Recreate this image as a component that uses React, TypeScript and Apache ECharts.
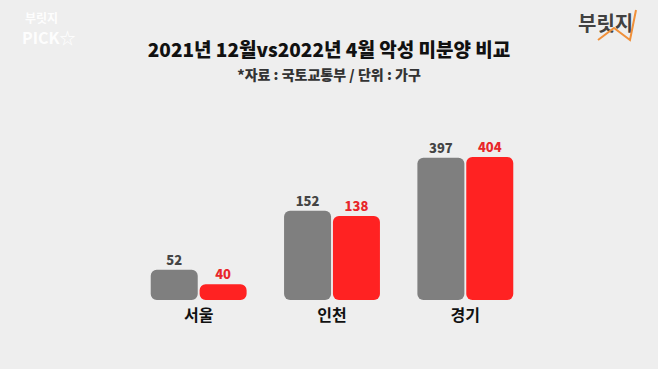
import React, { useEffect, useRef } from "react";
import * as echarts from "echarts";

const categories = ["서울", "인천", "경기"];
const dec2021 = [52, 152, 397];
const apr2022 = [40, 138, 404];
const seriesNames = ["2021년 12월", "2022년 4월"];
const titleText = "2021년 12월vs2022년 4월 악성 미분양 비교";
const subText = "*자료 : 국토교통부 / 단위 : 가구";

const FONT = "'Noto Sans CJK KR', 'Noto Sans', sans-serif";

export default function App() {
  const ref = useRef<HTMLDivElement>(null);
  useEffect(() => {
    document.body.style.margin = "0";
    const chart = echarts.init(ref.current!, null, { renderer: "svg" });
    chart.setOption({
      animation: false,
      backgroundColor: "#eeeeee",
      title: [
        {
          text: titleText,
          left: "center",
          top: 34,
          textStyle: { fontFamily: FONT, fontSize: 19, fontWeight: 900, color: "#111" },
        },
        {
          text: subText,
          left: "center",
          top: 62,
          textStyle: { fontFamily: FONT, fontSize: 14, fontWeight: 900, color: "#333" },
        },
      ],
      graphic: [
        {
          type: "text",
          left: 25,
          top: 11,
          style: { text: "부릿지", fontFamily: FONT, fontSize: 12, fontWeight: 700, fill: "#ffffff", opacity: 0.95 },
        },
        {
          type: "text",
          left: 22,
          top: 29,
          style: { text: "PICK☆", fontFamily: FONT, fontSize: 16, fontWeight: 700, fill: "#ffffff", opacity: 0.95 },
        },
        {
          type: "text",
          left: 578,
          top: 12,
          style: { text: "부릿지", fontFamily: FONT, fontSize: 20, fontWeight: 700, fill: "#222", opacity: 0.85 },
        },
        {
          type: "polyline",
          shape: { points: [[598, 40], [614, 28], [630, 40], [636, 10]] },
          style: { stroke: "#f0903a", lineWidth: 2, fill: "none" },
        },
      ],
      legend: { show: false },
      grid: { left: 132, right: 126, top: 107, bottom: 69 },
      xAxis: {
        type: "category",
        data: categories,
        axisLine: { show: false },
        axisTick: { show: false },
        axisLabel: { fontFamily: FONT, fontSize: 16, fontWeight: 700, color: "#111", margin: 6 },
      },
      yAxis: {
        type: "log",
        logBase: 10,
        min: 30,
        max: 1000,
        show: false,
        splitLine: { show: false },
      },
      series: [
        {
          name: seriesNames[0],
          type: "bar",
          data: dec2021,
          barWidth: 47,
          barGap: "4%",
          itemStyle: { color: "#7f7f7f", borderRadius: 6 },
          label: {
            show: true,
            position: "top",
            distance: 4,
            fontFamily: FONT,
            fontSize: 13,
            fontWeight: 900,
            color: "#444",
          },
        },
        {
          name: seriesNames[1],
          type: "bar",
          data: apr2022,
          barWidth: 47,
          itemStyle: { color: "#ff2222", borderRadius: 6 },
          label: {
            show: true,
            position: "top",
            distance: 4,
            fontFamily: FONT,
            fontSize: 13,
            fontWeight: 900,
            color: "#e8262a",
          },
        },
      ],
    });
    return () => chart.dispose();
  }, []);
  return <div ref={ref} style={{ width: 658, height: 369 }} />;
}
